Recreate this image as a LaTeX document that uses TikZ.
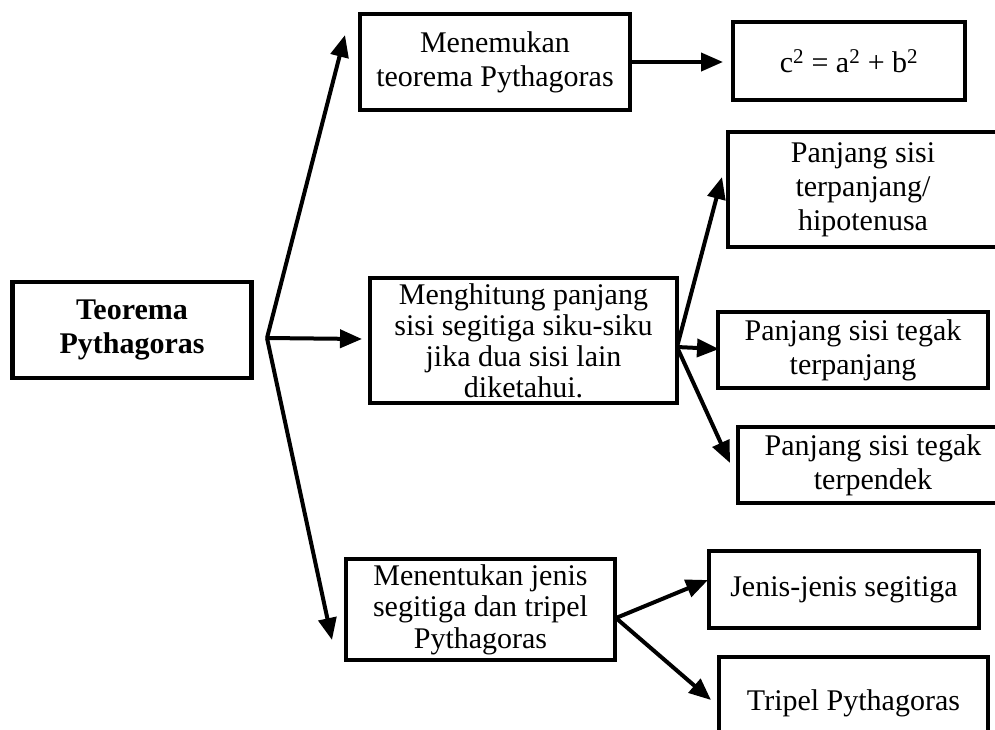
\documentclass[tikz,border=0pt]{standalone}
\usepackage{fontspec}
\setmainfont{Liberation Serif}
\usetikzlibrary{arrows.meta}
\tikzset{
  box/.style={draw, line width=4.5pt, rectangle, inner sep=0pt, align=center,
    font=\fontsize{30}{34}\selectfont},
  conn/.style={line width=4pt, -{Triangle[length=22pt,width=18pt]}}
}
\begin{document}
\begin{tikzpicture}[x=1pt,y=-1pt]
\useasboundingbox (0,0) rectangle (995,729);
\clip (0,0) rectangle (995,729);
% boxes
\node[box, minimum width=239pt, minimum height=96pt] (root) at (132,330)
  {\bfseries Teorema\\\bfseries Pythagoras};
\node[box, minimum width=270pt, minimum height=96pt] (m1) at (495,62)
  {Menemukan\\teorema Pythagoras};
\node[box, minimum width=232pt, minimum height=78pt] (eq) at (849,61)
  {c\textsuperscript{2} = a\textsuperscript{2} + b\textsuperscript{2}};
\node[box, minimum width=307pt, minimum height=125pt,
  font=\fontsize{30}{31}\selectfont] (m2) at (523.5,340.5)
  {Menghitung panjang\\sisi segitiga siku-siku\\jika dua sisi lain\\diketahui.};
\node[box, minimum width=270pt, minimum height=115pt] (hip) at (863,189.5)
  {Panjang sisi\\terpanjang/\\hipotenusa};
\node[box, minimum width=270pt, minimum height=76pt] (tp) at (853,350)
  {Panjang sisi tegak\\terpanjang};
\node[box, minimum width=270pt, minimum height=76pt] (td) at (873,465)
  {Panjang sisi tegak\\terpendek};
\node[box, minimum width=269pt, minimum height=101pt,
  font=\fontsize{30}{31.5}\selectfont] (m3) at (480.5,609.5)
  {Menentukan jenis\\segitiga dan tripel\\Pythagoras};
\node[box, minimum width=270pt, minimum height=77pt] (js) at (844,589.5)
  {Jenis-jenis segitiga};
\node[box, minimum width=269pt, minimum height=92pt] (tr) at (853.5,703)
  {Tripel Pythagoras};
% connector points
\coordinate (b1) at (267,338);
\coordinate (t1) at (345,35);
\coordinate (t2) at (362,339);
\coordinate (t3) at (332,640);
\coordinate (t4) at (723,62);
\coordinate (b2) at (677,347);
\coordinate (t5) at (722,177);
\coordinate (t6) at (719,349);
\coordinate (t7) at (730,463);
\coordinate (b3) at (616,618);
\coordinate (t8) at (708,580);
\coordinate (t9) at (711,700);
% connectors
\draw[conn] (b1) -- (t1);
\draw[conn] (b1) -- (t2);
\draw[conn] (b1) -- (t3);
\draw[conn] (m1.east) -- (t4);
\draw[conn] (b2) -- (t5);
\draw[conn] (b2) -- (t6);
\draw[conn] (b2) -- (t7);
\draw[conn] (b3) -- (t8);
\draw[conn] (b3) -- (t9);
\end{tikzpicture}
\end{document}
